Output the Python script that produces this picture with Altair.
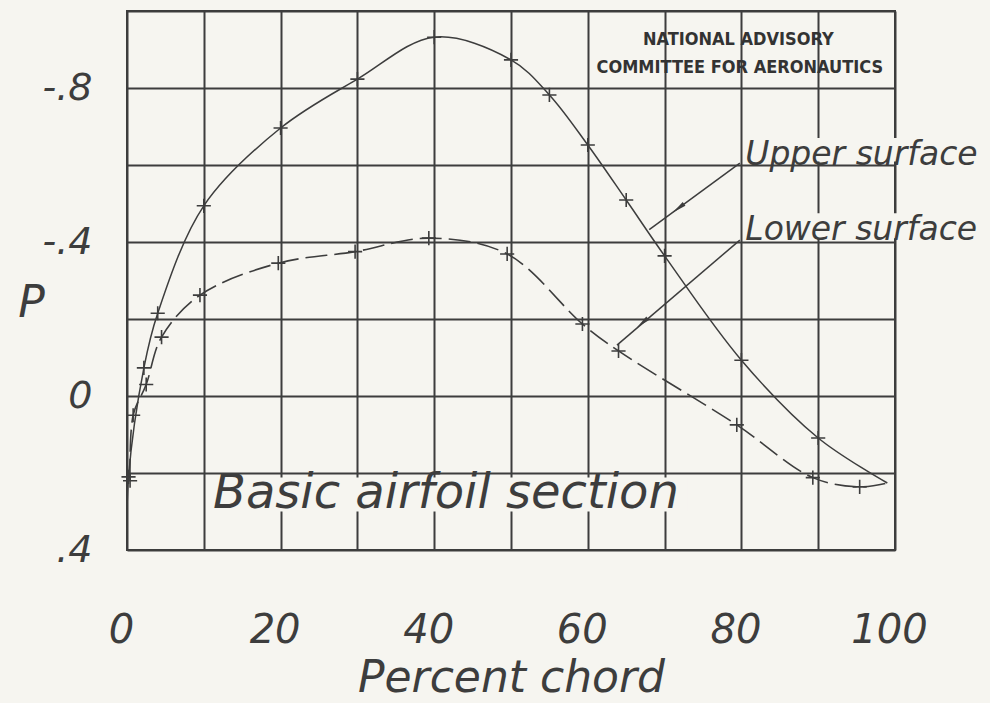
import altair as alt
import pandas as pd

# ---------------- data ----------------
# Upper surface (solid curve). First and last entries are curve ends without a "+" marker.
upper_x = [0.0, 0.2, 2.2, 4.0, 10.0, 20.0, 30.0, 40.0, 50.0, 55.0, 60.0, 65.0, 70.0, 80.0, 90.0, 99.0]
upper_p = [0.40, 0.21, -0.073, -0.215, -0.494, -0.696, -0.823, -0.932, -0.873, -0.782, -0.652, -0.509, -0.364, -0.093, 0.109, 0.226]
upper_marked = [False, True, True, True, True, True, True, True, True, True, True, True, True, True, True, False]

# Lower surface (dashed curve). Last entry is the curve end without a marker.
lower_x = [0.4, 0.8, 2.5, 4.5, 9.5, 19.7, 29.7, 39.3, 49.5, 59.3, 64.0, 79.4, 89.3, 95.4, 99.0]
lower_p = [0.22, 0.05, -0.03, -0.153, -0.262, -0.345, -0.375, -0.41, -0.369, -0.187, -0.117, 0.075, 0.212, 0.236, 0.226]
lower_marked = [True, True, True, True, True, True, True, True, True, True, True, True, True, True, False]

# Axis grid and labels
x_grid_values = [0, 10, 20, 30, 40, 50, 60, 70, 80, 90, 100]
x_label_values = [0, 20, 40, 60, 80, 100]
x_label_text = ["0", "20", "40", "60", "80", "100"]
y_grid_values = [-1.0, -0.8, -0.6, -0.4, -0.2, 0.0, 0.2, 0.4]
y_label_values = [-0.8, -0.4, 0.0, 0.4]
y_label_text = ["-.8", "-.4", "0", ".4"]

# Annotations (data coordinates)
curve_label_text = ["Upper surface", "Lower surface"]
curve_label_x = [80.5, 80.5]
curve_label_p = [-0.600, -0.405]

leader_x = [79.8, 79.8]
leader_p = [-0.605, -0.405]
leader_x2 = [68.0, 63.8]
leader_p2 = [-0.432, -0.132]

arrow_x = [71.8, 67.1]
arrow_p = [-0.488, -0.190]
arrow_angle = [233, 230]

naca_text = ["NATIONAL ADVISORY", "COMMITTEE FOR AERONAUTICS"]
naca_x = [79.6, 79.8]
naca_p = [-0.925, -0.852]

section_text = ["Basic airfoil section"]
section_x = [11.2]
section_p = [0.292]

# paper-coloured patches where the lettering interrupts the grid
mask_x = [11.0, 81.0, 81.0]
mask_x2 = [73.0, 101.5, 101.5]
mask_p = [0.212, -0.670, -0.475]
mask_p2 = [0.300, -0.609, -0.410]

# ---------------- styling ----------------
PAPER = "#f6f5f0"
INK = "#3d3d3d"
HAND = "DejaVu Sans"

def cond_expr(values, texts):
    expr = "''"
    for v, t in reversed(list(zip(values, texts))):
        expr = f"abs(datum.value - ({v})) < 0.001 ? '{t}' : " + expr
    return expr

x_axis = alt.Axis(
    values=x_grid_values,
    labelExpr=cond_expr(x_label_values, x_label_text),
    title="Percent chord",
    labelPadding=92,
    labelBaseline="alphabetic",
    labelOffset=-6,
    labelFontSize=40,
    titleX=384,
    titleY=141,
    titleAlign="center",
    titleBaseline="alphabetic",
    titleFontSize=44,
)
y_axis = alt.Axis(
    values=y_grid_values,
    labelExpr=cond_expr(y_label_values, y_label_text),
    title="P",
    labelPadding=35,
    labelAlign="right",
    labelBaseline="middle",
    labelFontSize=38,
    titleAngle=0,
    titleX=-96,
    titleY=292,
    titleAlign="center",
    titleBaseline="middle",
    titleFontSize=44,
)

x_scale = alt.Scale(domain=[0, 100], nice=False, zero=False)
y_scale = alt.Scale(domain=[-1.0, 0.4], nice=False, zero=False, reverse=True)

X = alt.X("x:Q", scale=x_scale, axis=x_axis, title="Percent chord")
Y = alt.Y("p:Q", scale=y_scale, axis=y_axis, title="P")

upper_df = pd.DataFrame({"x": upper_x, "p": upper_p, "m": upper_marked})
lower_df = pd.DataFrame({"x": lower_x, "p": lower_p, "m": lower_marked})

mask_df = pd.DataFrame({"x": mask_x, "x2": mask_x2, "p": mask_p, "p2": mask_p2})
masks = alt.Chart(mask_df).mark_rect(color=PAPER, opacity=1).encode(
    x=X, x2="x2:Q", y=Y, y2="p2:Q"
)

upper_line = alt.Chart(upper_df).mark_line(
    interpolate="catmull-rom", color=INK, strokeWidth=1.5
).encode(x=X, y=Y, order="x:Q")

lower_line = alt.Chart(lower_df).mark_line(
    interpolate="catmull-rom", color=INK, strokeWidth=1.6, strokeDash=[22, 7]
).encode(x=X, y=Y, order="x:Q")

plus = "M-1,0L1,0M0,-1L0,1"
upper_pts = alt.Chart(upper_df).transform_filter("datum.m").mark_point(
    shape=plus, filled=False, color=INK, strokeWidth=1.6, size=200, opacity=1
).encode(x=X, y=Y)
lower_pts = alt.Chart(lower_df).transform_filter("datum.m").mark_point(
    shape=plus, filled=False, color=INK, strokeWidth=1.6, size=200, opacity=1
).encode(x=X, y=Y)

leader_df = pd.DataFrame({"x": leader_x, "p": leader_p, "x2": leader_x2, "p2": leader_p2})
leaders = alt.Chart(leader_df).mark_rule(color=INK, strokeWidth=1.5).encode(
    x=X, y=Y, x2="x2:Q", y2="p2:Q"
)

arrow_df = pd.DataFrame({"x": arrow_x, "p": arrow_p, "a": arrow_angle})
arrows = alt.Chart(arrow_df).mark_point(
    shape="M0,-1L0.32,1L-0.32,1Z", filled=True, color=INK, size=200, opacity=1
).encode(x=X, y=Y, angle=alt.Angle("a:Q", scale=None))

label_df = pd.DataFrame({"x": curve_label_x, "p": curve_label_p, "t": curve_label_text})
curve_labels = alt.Chart(label_df).mark_text(
    align="left", baseline="alphabetic", font=HAND, fontStyle="italic",
    fontSize=33, color=INK
).encode(x=X, y=Y, text="t:N")

section_df = pd.DataFrame({"x": section_x, "p": section_p, "t": section_text})
section = alt.Chart(section_df).mark_text(
    align="left", baseline="alphabetic", font=HAND, fontStyle="italic",
    fontSize=48, color=INK
).encode(x=X, y=Y, text="t:N")

naca_df = pd.DataFrame({"x": naca_x, "p": naca_p, "t": naca_text})
naca = alt.Chart(naca_df).mark_text(
    align="center", baseline="middle", font="Liberation Sans Narrow, DejaVu Sans Condensed, Liberation Sans",
    fontSize=18, fontWeight="bold", color="#333333"
).encode(x=X, y=Y, text="t:N")

chart = alt.layer(
    masks, upper_line, lower_line, upper_pts, lower_pts, leaders, arrows,
    curve_labels, section, naca
).properties(
    width=768, height=539,
    autosize=alt.AutoSizeParams(type="none"),
    padding={"left": 127, "top": 11, "right": 95, "bottom": 153},
    background=PAPER,
).configure_view(
    stroke=INK, strokeWidth=2, fill=PAPER
).configure_axis(
    grid=True, gridColor=INK, gridWidth=2, gridOpacity=1,
    domain=False, ticks=False,
    labelFont=HAND, labelFontStyle="italic", labelColor=INK,
    titleFont=HAND, titleFontStyle="italic", titleColor=INK, titleFontWeight="normal",
    labelFlush=False, labelOverlap=False, labelBound=False,
)

chart.save("out.html", embed_options={"renderer": "svg", "actions": False})
